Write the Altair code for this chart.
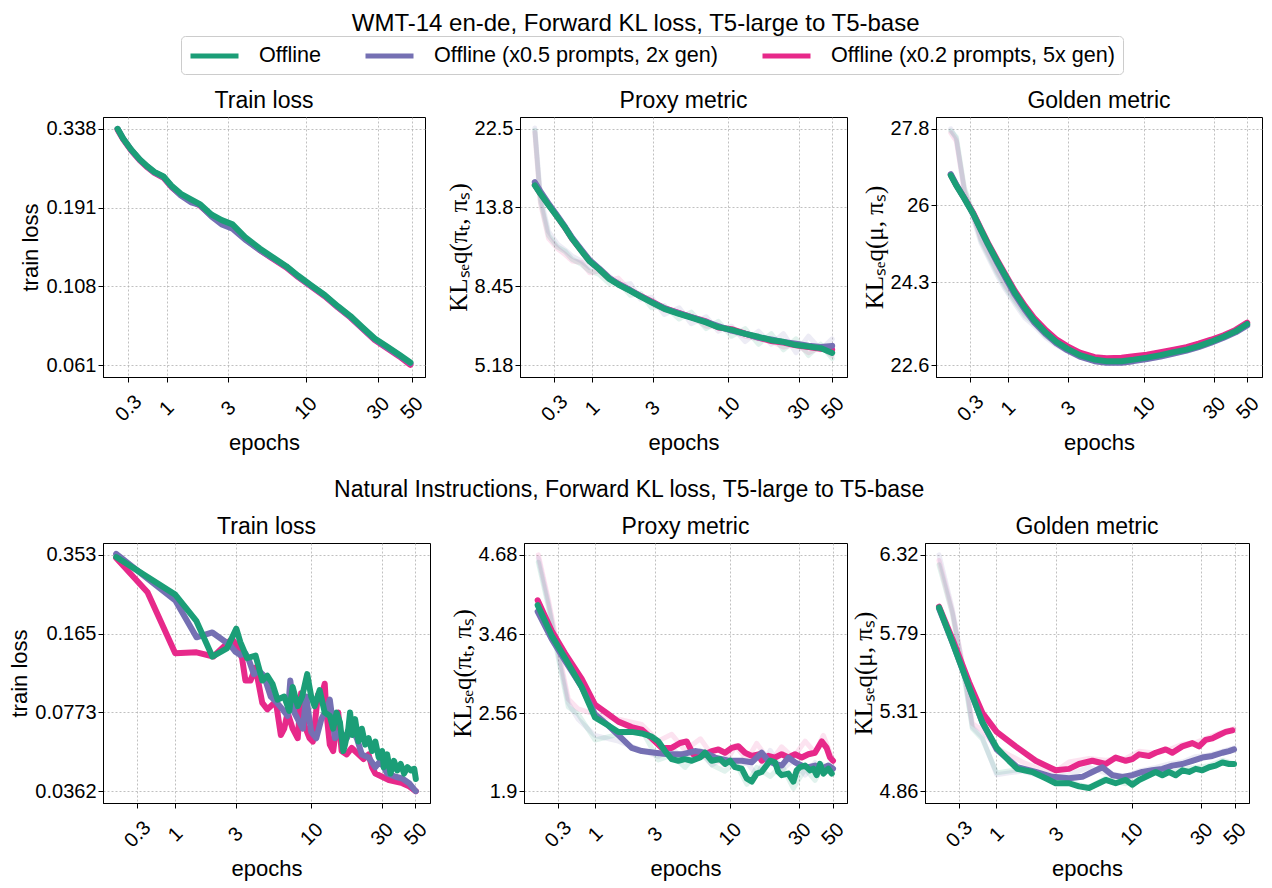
import altair as alt
import pandas as pd

SERIES = ["Offline", "Offline (x0.5 prompts, 2x gen)", "Offline (x0.2 prompts, 5x gen)"]
COLORS = ["#1b9e77", "#7570b3", "#e7298a"]

MAIN_TITLE = "WMT-14 en-de, Forward KL loss, T5-large to T5-base"
ROW2_TITLE = "Natural Instructions, Forward KL loss, T5-large to T5-base"
PANEL_TITLES = ["Train loss", "Proxy metric", "Golden metric"]
Y_TITLES = ["train loss", "KLₛₑq(πₜ, πₛ)", "KLₛₑq(μ, πₛ)"]

X_TICK_LABELS = ["0.3", "1", "3", "10", "30", "50"]
X_TICKS_P1 = [0.672, 1.204, 3.085, 10.07, 30.44, 50.87]
X_TICKS = [0.765, 1.35, 3.35, 10.5, 30.3, 50.2]
X_DOMAIN = [0.456, 62.5]

Y_TICKS_P1 = [0.061, 0.108, 0.191, 0.338]
Y_TICKS_P2 = [5.18, 8.45, 13.8, 22.5]
Y_TICKS_P3 = [22.6, 24.3, 26, 27.8]
Y_TICKS_P4 = [0.0362, 0.0773, 0.165, 0.353]
Y_TICKS_P5 = [1.9, 2.56, 3.46, 4.68]
Y_TICKS_P6 = [4.86, 5.31, 5.79, 6.32]

# ---------------- Row 1 (WMT-14) ----------------
X_GRID = [0.57, 0.62, 0.7, 0.8, 0.9, 1.0, 1.15, 1.3, 1.5, 1.75, 2.0, 2.4, 2.8, 3.3,
          4.0, 5.0, 6.0, 7.5, 9.0, 11, 13.5, 16.5, 20, 24, 29, 35, 42, 50]

P1_GREEN = [0.338, 0.3152, 0.2912, 0.2709, 0.2574, 0.2474, 0.2394, 0.2238, 0.2111, 0.2029,
            0.1960, 0.1815, 0.1744, 0.1692, 0.1542, 0.1421, 0.1341, 0.1250, 0.1166, 0.1087,
            0.1014, 0.0935, 0.0871, 0.0803, 0.0740, 0.0698, 0.0659, 0.0622]
P1_PURPLE = [0.338, 0.3150, 0.2905, 0.2700, 0.2565, 0.2465, 0.2385, 0.2225, 0.2085, 0.1985,
             0.1950, 0.1790, 0.1690, 0.1640, 0.1515, 0.1405, 0.1330, 0.1245, 0.1160, 0.1082,
             0.1010, 0.0930, 0.0866, 0.0798, 0.0736, 0.0694, 0.0655, 0.0618]
P1_PINK = [0.336, 0.3135, 0.2895, 0.2690, 0.2555, 0.2455, 0.2370, 0.2215, 0.2095, 0.2010,
           0.1940, 0.1800, 0.1725, 0.1670, 0.1525, 0.1405, 0.1325, 0.1238, 0.1155, 0.1078,
           0.1005, 0.0927, 0.0862, 0.0795, 0.0732, 0.0690, 0.0651, 0.0612]

P2_GREEN = [15.83, 15.03, 14.01, 13.01, 12.16, 11.36, 10.53, 9.88, 9.40, 8.85, 8.55, 8.22,
            7.93, 7.65, 7.35, 7.12, 6.96, 6.76, 6.56, 6.45, 6.29, 6.18, 6.05, 5.99, 5.87,
            5.82, 5.76, 5.59]
P2_PURPLE = [16.15, 15.25, 14.15, 13.10, 12.22, 11.42, 10.60, 9.95, 9.45, 8.90, 8.58, 8.25,
             7.96, 7.68, 7.38, 7.15, 6.98, 6.78, 6.60, 6.42, 6.30, 6.15, 6.08, 5.98, 5.92,
             5.85, 5.80, 5.84]
P2_PINK = [15.90, 15.05, 14.05, 13.02, 12.15, 11.35, 10.55, 9.90, 9.42, 8.88, 8.58, 8.24,
           7.96, 7.70, 7.38, 7.16, 6.98, 6.80, 6.55, 6.48, 6.30, 6.15, 6.02, 5.96, 5.86,
           5.80, 5.74, 5.70]
P2_RAW_GREEN = [22.3, 14.4, 11.6, 10.8, 10.5, 10.0, 9.7, 9.3, 9.1, 8.6, 8.7, 8.0, 8.1, 7.4,
                7.5, 6.9, 7.2, 6.5, 6.8, 6.2, 6.5, 5.9, 6.3, 5.7, 6.1, 5.5, 5.9, 5.4]
P2_RAW_PURPLE = [22.6, 14.8, 11.9, 11.0, 10.6, 10.2, 9.9, 9.5, 9.5, 9.0, 8.5, 8.6, 7.8, 7.9,
                 7.1, 7.4, 6.7, 7.0, 6.4, 6.6, 6.0, 6.4, 5.9, 6.3, 5.6, 6.2, 5.7, 6.1]
P2_RAW_PINK = [22.0, 14.2, 11.4, 10.7, 10.3, 9.9, 9.8, 9.2, 9.3, 8.8, 8.9, 8.2, 8.0, 7.6,
               7.3, 7.2, 7.0, 6.6, 6.6, 6.4, 6.2, 6.1, 6.0, 5.8, 5.9, 5.6, 5.8, 5.5]

P3_GREEN = [26.69, 26.45, 26.15, 25.80, 25.44, 25.13, 24.75, 24.44, 24.08, 23.76, 23.51,
            23.25, 23.07, 22.93, 22.80, 22.71, 22.68, 22.68, 22.71, 22.75, 22.80, 22.86,
            22.91, 22.98, 23.07, 23.17, 23.28, 23.43]
P3_PURPLE = [26.72, 26.47, 26.16, 25.80, 25.43, 25.11, 24.72, 24.40, 24.04, 23.72, 23.47,
             23.22, 23.04, 22.90, 22.77, 22.68, 22.65, 22.65, 22.68, 22.72, 22.77, 22.83,
             22.89, 22.96, 23.05, 23.15, 23.26, 23.40]
P3_PINK = [26.70, 26.46, 26.16, 25.82, 25.46, 25.15, 24.78, 24.47, 24.12, 23.80, 23.56,
           23.30, 23.12, 22.98, 22.85, 22.76, 22.74, 22.75, 22.78, 22.81, 22.86, 22.91,
           22.96, 23.03, 23.11, 23.20, 23.31, 23.46]
P3_RAW_GREEN = [27.75, 27.6, 26.4, 25.8, 25.2, 24.9, 24.5, 24.2, 23.9, 23.6, 23.45, 23.18,
                23.05, 22.92, 22.8, 22.72, 22.68, 22.67, 22.72, 22.74, 22.8, 22.87, 22.9,
                22.99, 23.06, 23.16, 23.29, 23.42]
P3_RAW_PURPLE = [27.8, 27.55, 26.3, 25.7, 25.15, 24.85, 24.45, 24.15, 23.85, 23.55, 23.4,
                 23.15, 23.0, 22.88, 22.76, 22.68, 22.64, 22.64, 22.68, 22.71, 22.76, 22.83,
                 22.88, 22.96, 23.04, 23.14, 23.26, 23.40]
P3_RAW_PINK = [27.7, 27.5, 26.35, 25.75, 25.25, 24.95, 24.55, 24.25, 23.95, 23.65, 23.5,
               23.22, 23.1, 22.97, 22.85, 22.77, 22.74, 22.75, 22.77, 22.81, 22.86, 22.9,
               22.97, 23.02, 23.12, 23.19, 23.33, 23.47]

# ---------------- Row 2 (Natural Instructions) ----------------
P4_GREEN_X = [0.556, 1.352, 1.862, 2.363, 2.941, 3.389, 3.602, 3.988, 4.527, 5.012, 5.408,
              5.837, 6.298, 6.971, 7.522, 7.914, 8.542, 9.124, 9.847, 10.46, 11.01, 11.88,
              12.82, 13.84, 14.56, 15.32, 16.12, 16.95, 17.39, 18.29, 18.77, 19.45, 20.25,
              21.31, 22.41, 23.59, 24.81, 26.11, 27.47, 28.89, 30.40, 31.18, 32.81, 34.51,
              36.32, 38.2, 40.2, 42.3, 44.5, 46.8, 49.3, 50.5]
P4_GREEN_Y = [0.3455, 0.2406, 0.1862, 0.1325, 0.1432, 0.1734, 0.1523, 0.1305, 0.1338, 0.1051,
              0.1101, 0.1019, 0.0874, 0.0901, 0.0784, 0.0988, 0.0821, 0.0901, 0.1118, 0.0901,
              0.0821, 0.0958, 0.0772, 0.0748, 0.0661, 0.0772, 0.0703, 0.0533, 0.0567, 0.0661,
              0.0772, 0.0622, 0.0725, 0.0584, 0.0661, 0.0567, 0.0603, 0.0533, 0.0584, 0.0501,
              0.0533, 0.0456, 0.0516, 0.0429, 0.0485, 0.0442, 0.0471, 0.0429, 0.0456, 0.0442,
              0.0449, 0.0407]
P4_PURPLE_X = [0.556, 1.352, 1.862, 2.363, 3.093, 3.338, 3.602, 3.888, 4.090, 4.413, 4.764,
               5.140, 5.690, 6.141, 6.797, 7.335, 7.638, 8.121, 8.762, 9.219, 9.698, 10.46,
               11.29, 12.19, 13.15, 13.84, 14.94, 16.12, 17.84, 19.25, 20.77, 22.41, 24.81,
               27.47, 29.64, 32.81, 37.25, 41.23, 45.63, 49.3, 50.5]
P4_PURPLE_Y = [0.3563, 0.2276, 0.1595, 0.1671, 0.1477, 0.1388, 0.1346, 0.1367, 0.1285, 0.1118,
               0.1153, 0.1101, 0.0901, 0.0860, 0.0796, 0.0748, 0.1051, 0.0772, 0.0703, 0.0661,
               0.0901, 0.0641, 0.0603, 0.0725, 0.0796, 0.0874, 0.0603, 0.0641, 0.0603, 0.0661,
               0.0603, 0.0516, 0.0501, 0.0456, 0.0485, 0.0429, 0.0416, 0.0409, 0.0391, 0.0368,
               0.0362]
P4_PINK_X = [0.556, 0.891, 1.352, 1.862, 2.400, 3.173, 3.338, 3.694, 3.888, 4.196, 4.527,
             5.012, 5.408, 6.141, 6.625, 6.971, 7.335, 7.914, 8.542, 8.986, 9.454, 10.20,
             10.73, 11.58, 12.19, 12.82, 13.15, 13.84, 14.56, 15.71, 16.53, 17.84, 19.25,
             21.31, 22.99, 24.81, 26.11, 27.47, 30.40, 33.65, 37.25, 41.23, 45.63, 50.5]
P4_PINK_Y = [0.3422, 0.2459, 0.1367, 0.1380, 0.1325, 0.1571, 0.1500, 0.1305, 0.1051, 0.1051,
             0.1190, 0.0847, 0.0796, 0.0860, 0.0622, 0.0661, 0.0772, 0.0661, 0.0603, 0.0929,
             0.0682, 0.0603, 0.0584, 0.0915, 0.0901, 0.1019, 0.0772, 0.0567, 0.0533, 0.0772,
             0.0533, 0.0516, 0.0549, 0.0516, 0.0493, 0.0516, 0.0456, 0.0429, 0.0416, 0.0403,
             0.0397, 0.0391, 0.0379, 0.0362]

P5_GREEN_X = [0.5616, 0.695, 0.852, 1.098, 1.345, 1.648, 1.919, 2.351, 2.739, 3.189, 3.530,
              3.908, 4.325, 4.787, 5.300, 5.867, 6.660, 7.186, 7.955, 9.032, 9.748, 10.52,
              11.35, 12.57, 13.56, 14.63, 15.79, 17.03, 19.35, 20.88, 21.96, 23.11, 25.58,
              27.61, 29.04, 30.55, 32.98, 35.58, 37.44, 39.38, 41.43, 43.61, 47.04, 49.50]
P5_GREEN_Y = [3.862, 3.439, 3.156, 2.827, 2.517, 2.441, 2.382, 2.382, 2.368, 2.339, 2.297,
              2.214, 2.147, 2.134, 2.147, 2.134, 2.160, 2.200, 2.134, 2.147, 2.108, 2.134,
              2.082, 2.070, 1.995, 1.971, 2.032, 2.045, 2.134, 2.121, 2.045, 2.020, 2.032,
              1.971, 2.057, 2.082, 2.095, 2.057, 2.070, 2.020, 2.108, 2.032, 2.070, 2.032]
P5_PURPLE_X = [0.5616, 0.695, 0.852, 1.098, 1.345, 1.648, 1.919, 2.351, 2.739, 3.355, 4.111,
               5.036, 6.172, 7.186, 8.370, 10.25, 12.57, 14.63, 17.03, 18.86, 20.88, 23.11,
               25.58, 28.31, 31.34, 34.69, 38.39, 42.49, 47.04, 50.5]
P5_PURPLE_Y = [3.769, 3.397, 3.126, 2.827, 2.548, 2.441, 2.353, 2.241, 2.214, 2.200, 2.187,
               2.187, 2.214, 2.200, 2.160, 2.134, 2.134, 2.121, 2.200, 2.134, 2.108, 2.095,
               2.160, 2.121, 2.095, 2.082, 2.095, 2.070, 2.095, 2.070]
P5_PINK_X = [0.5616, 0.695, 0.852, 1.098, 1.345, 1.648, 1.919, 2.351, 2.739, 3.189, 3.713,
             4.325, 4.910, 5.434, 6.017, 6.493, 7.186, 7.955, 8.81, 9.748, 10.79, 11.94,
             13.22, 14.63, 16.19, 17.03, 18.86, 20.88, 23.11, 25.58, 28.31, 31.34, 34.69,
             38.39, 42.49, 45.86, 48.26, 50.5]
P5_PINK_Y = [3.934, 3.502, 3.215, 2.915, 2.643, 2.548, 2.477, 2.426, 2.403, 2.325, 2.241,
             2.241, 2.283, 2.297, 2.187, 2.160, 2.187, 2.214, 2.227, 2.200, 2.241, 2.255,
             2.200, 2.174, 2.187, 2.134, 2.174, 2.160, 2.187, 2.160, 2.187, 2.160, 2.187,
             2.200, 2.297, 2.241, 2.160, 2.134]
P5_RAW_X = [0.567, 0.66, 0.77, 0.896, 1.04, 1.345, 1.92, 2.74, 3.53, 4.33, 5.3, 6.7, 8.0,
            9.7, 11.4, 13.6, 15.8, 19.4, 23.1, 27.6, 33.0, 38.4, 43.6, 50.0]
P5_RAW_GREEN = [4.55, 3.85, 3.15, 2.62, 2.55, 2.31, 2.36, 2.40, 2.14, 2.18, 2.08, 2.22, 2.10,
                2.05, 2.12, 1.95, 2.08, 2.01, 2.10, 1.92, 2.07, 1.98, 2.10, 2.03]
P5_RAW_PURPLE = [4.62, 3.90, 3.20, 2.66, 2.50, 2.35, 2.30, 2.22, 2.17, 2.24, 2.14, 2.20, 2.10,
                 2.16, 2.08, 2.12, 2.02, 2.22, 2.06, 2.14, 2.02, 2.12, 2.05, 2.09]
P5_RAW_PINK = [4.68, 3.95, 3.25, 2.70, 2.60, 2.55, 2.50, 2.45, 2.30, 2.36, 2.22, 2.32, 2.18,
               2.10, 2.26, 2.14, 2.28, 2.12, 2.25, 2.16, 2.30, 2.20, 2.35, 2.15]

P6_GREEN_X = [0.564, 0.691, 0.890, 1.089, 1.354, 1.633, 1.854, 2.328, 2.851, 3.318, 4.063,
              4.729, 5.505, 6.091, 7.088, 8.254, 9.608, 10.63, 11.77, 13.69, 15.15, 16.76,
              18.55, 20.53, 22.71, 25.14, 27.82, 30.77, 34.06, 37.68, 41.71, 46.15, 49.78]
P6_GREEN_Y = [5.961, 5.736, 5.457, 5.247, 5.100, 5.027, 4.982, 4.965, 4.930, 4.903, 4.903,
              4.886, 4.877, 4.895, 4.921, 4.903, 4.921, 4.895, 4.921, 4.947, 4.965, 4.947,
              4.965, 4.947, 4.974, 4.965, 4.982, 4.974, 4.991, 5.000, 5.018, 5.009, 5.009]
P6_PURPLE_X = [0.564, 0.691, 0.890, 1.089, 1.354, 1.854, 2.449, 3.154, 4.063, 4.973, 5.789,
               6.742, 7.845, 9.134, 10.63, 12.38, 14.40, 16.76, 19.52, 22.71, 26.44, 30.77,
               35.83, 41.71, 46.15, 49.78]
P6_PURPLE_Y = [5.955, 5.736, 5.457, 5.247, 5.091, 4.991, 4.965, 4.938, 4.930, 4.938, 4.965,
               4.991, 4.947, 4.938, 4.947, 4.965, 4.974, 4.982, 5.000, 5.009, 5.027, 5.045,
               5.054, 5.072, 5.081, 5.091]
P6_PINK_X = [0.564, 0.691, 0.890, 1.089, 1.354, 1.807, 2.449, 3.318, 4.063, 4.729, 5.789,
             7.088, 8.254, 9.608, 10.63, 11.77, 13.69, 15.15, 17.64, 19.52, 22.71, 26.44,
             29.26, 32.37, 35.83, 39.65, 43.86, 48.54]
P6_PINK_Y = [5.966, 5.756, 5.486, 5.303, 5.191, 5.108, 5.027, 4.974, 4.982, 5.009, 5.027,
             5.009, 5.045, 5.027, 5.036, 5.063, 5.054, 5.072, 5.091, 5.072, 5.108, 5.127,
             5.108, 5.145, 5.154, 5.173, 5.191, 5.200]
P6_RAW_X = [0.564, 0.691, 0.846, 0.936, 1.089, 1.354, 1.633, 2.0, 2.45, 3.32, 4.06, 5.5,
            7.09, 9.6, 11.8, 15.2, 18.6, 22.7, 27.8, 34.1, 41.7, 49.8]
P6_RAW_GREEN = [6.25, 5.92, 5.46, 5.21, 5.15, 4.96, 4.97, 4.98, 4.96, 4.92, 4.91, 4.88, 4.93,
                4.90, 4.93, 4.97, 4.96, 4.98, 4.99, 5.00, 5.03, 5.01]
P6_RAW_PURPLE = [6.32, 5.95, 5.48, 5.22, 5.16, 4.95, 4.96, 4.97, 4.95, 4.94, 4.95, 4.99, 4.96,
                 4.94, 4.97, 4.99, 5.01, 5.02, 5.05, 5.06, 5.08, 5.10]
P6_RAW_PINK = [6.28, 5.93, 5.50, 5.24, 5.20, 5.10, 5.06, 5.02, 4.99, 4.97, 5.02, 5.04, 5.03,
               5.04, 5.08, 5.07, 5.09, 5.12, 5.13, 5.16, 5.19, 5.21]

SANS = "Liberation Sans"
SERIF = "Liberation Serif"
PANEL_H = 260


def tick_label_expr(vals, labels):
    expr = "'" + labels[-1] + "'"
    for i in range(len(vals) - 2, -1, -1):
        cut = (vals[i] * vals[i + 1]) ** 0.5
        expr = f"datum.value < {cut:.4f} ? '{labels[i]}' : ({expr})"
    return expr


LEGEND = alt.Legend(
    orient="none", legendX=78, legendY=-81, direction="horizontal", columns=3,
    title=None, symbolType="M-2.4,0L2.4,0", symbolSize=400, symbolStrokeWidth=5,
    symbolOffset=14, labelOffset=32, symbolOpacity=1,
    labelFont=SANS, labelFontSize=21.6, labelColor="black",
    labelLimit=600, columnPadding=33, padding=7,
    strokeColor="#cccccc", cornerRadius=4, fillColor="white",
)


def panel(title, ytitle, serif_title, smooth, raw, yticks, xticks, width, ytitle_pad=3):
    lo = yticks[0] * (yticks[0] / yticks[-1]) ** 0.05
    hi = yticks[-1] * (yticks[-1] / yticks[0]) ** 0.05
    x_enc = alt.X(
        "epochs:Q",
        scale=alt.Scale(type="log", domain=X_DOMAIN, nice=False),
        axis=alt.Axis(values=xticks, labelExpr=tick_label_expr(xticks, X_TICK_LABELS),
                      title="epochs", labelAngle=315, labelAlign="center",
                      labelBaseline="middle", labelPadding=26, labelOverlap=False,
                      titlePadding=8),
    )
    y_enc = alt.Y(
        "value:Q",
        scale=alt.Scale(type="log", domain=[lo, hi], nice=False, zero=False),
        axis=alt.Axis(values=yticks, format="~g", title=ytitle, labelOverlap=False,
                      labelPadding=2,
                      titleFont=SERIF if serif_title else SANS,
                      titleFontSize=25 if serif_title else 22,
                      titlePadding=ytitle_pad),
    )
    c_enc = alt.Color("series:N", scale=alt.Scale(domain=SERIES, range=COLORS), legend=LEGEND)
    layers = []
    for data, opacity, sw in [(raw, 0.13, 5), (smooth, 1.0, 6)]:
        if data is None:
            continue
        for name in reversed(SERIES):
            xs, ys = data[name]
            df = pd.DataFrame({"epochs": xs, "value": ys, "series": name})
            layers.append(
                alt.Chart(df).mark_line(strokeWidth=sw, opacity=opacity,
                                        strokeJoin="round", strokeCap="round")
                .encode(x=x_enc, y=y_enc, color=c_enc)
            )
    return alt.layer(*layers).properties(
        width=width, height=PANEL_H,
        title=alt.TitleParams(title, anchor="middle", offset=4, fontSize=23),
    )


def trio(g, p, k, xg=None, xp=None, xk=None):
    xg = xg if xg is not None else X_GRID
    xp = xp if xp is not None else xg
    xk = xk if xk is not None else xg
    return {SERIES[0]: (xg, g), SERIES[1]: (xp, p), SERIES[2]: (xk, k)}


p1 = panel(PANEL_TITLES[0], Y_TITLES[0], False,
           trio(P1_GREEN, P1_PURPLE, P1_PINK), None, Y_TICKS_P1, X_TICKS_P1, 322)
p2 = panel(PANEL_TITLES[1], Y_TITLES[1], True,
           trio(P2_GREEN, P2_PURPLE, P2_PINK),
           trio(P2_RAW_GREEN, P2_RAW_PURPLE, P2_RAW_PINK), Y_TICKS_P2, X_TICKS, 327)
p3 = panel(PANEL_TITLES[2], Y_TITLES[2], True,
           trio(P3_GREEN, P3_PURPLE, P3_PINK),
           trio(P3_RAW_GREEN, P3_RAW_PURPLE, P3_RAW_PINK), Y_TICKS_P3, X_TICKS, 326)

p4 = panel(PANEL_TITLES[0], Y_TITLES[0], False,
           trio(P4_GREEN_Y, P4_PURPLE_Y, P4_PINK_Y, P4_GREEN_X, P4_PURPLE_X, P4_PINK_X),
           None, Y_TICKS_P4, X_TICKS, 327)
p5 = panel(PANEL_TITLES[1], Y_TITLES[1], True,
           trio(P5_GREEN_Y, P5_PURPLE_Y, P5_PINK_Y, P5_GREEN_X, P5_PURPLE_X, P5_PINK_X),
           trio(P5_RAW_GREEN, P5_RAW_PURPLE, P5_RAW_PINK, P5_RAW_X),
           Y_TICKS_P5, X_TICKS, 323)
p6 = panel(PANEL_TITLES[2], Y_TITLES[2], True,
           trio(P6_GREEN_Y, P6_PURPLE_Y, P6_PINK_Y, P6_GREEN_X, P6_PURPLE_X, P6_PINK_X),
           trio(P6_RAW_GREEN, P6_RAW_PURPLE, P6_RAW_PINK, P6_RAW_X),
           Y_TICKS_P6, X_TICKS, 324)

row1 = alt.hconcat(alt.hconcat(p1, p2, spacing=18), p3, spacing=13)
row2 = alt.hconcat(alt.hconcat(p4, p5, spacing=18), p6, spacing=1).properties(
    title=alt.TitleParams(ROW2_TITLE, anchor="middle", offset=14, fontSize=23)
)

chart = (
    alt.concat(row1, row2, columns=1, spacing=23, align="none")
    .properties(
        title=alt.TitleParams(MAIN_TITLE, anchor="middle", offset=0, fontSize=24),
        padding={"left": 0, "right": 0, "top": 3, "bottom": 0},
    )
    .configure_view(stroke="black", strokeWidth=1)
    .configure_axis(
        domainColor="black", domainWidth=1, tickColor="black", tickSize=5, tickWidth=1,
        gridColor="#b0b0b0", gridDash=[2, 2], gridWidth=0.8,
        labelFont=SANS, labelFontSize=20, labelColor="black", labelPadding=4,
        titleFont=SANS, titleFontSize=22, titleFontWeight="normal", titleColor="black",
    )
    .configure_title(font=SANS, fontSize=22, fontWeight="normal", color="black")
)

chart.save("out.html", embed_options={"renderer": "svg", "actions": False})
